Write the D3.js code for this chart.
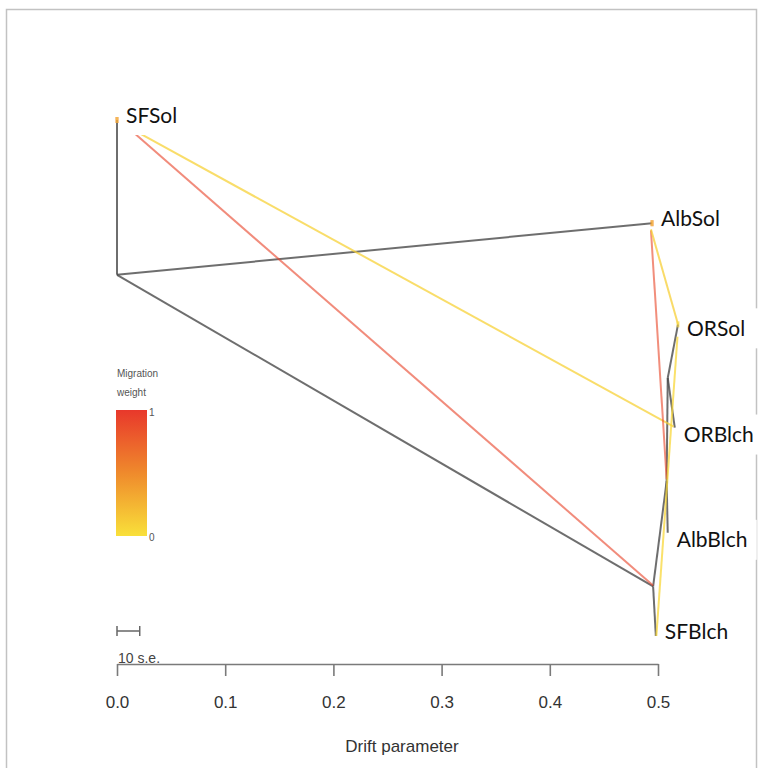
<!DOCTYPE html>
<html lang="en">
  <head>
    <meta charset="utf-8">
    <title>Treemix drift plot</title>
    <script src="https://cdnjs.cloudflare.com/ajax/libs/d3/7.8.5/d3.min.js"></script>
    <style>
      body { margin: 0; background: #fff; }
      .tip-label { font-family: Lato, "Open Sans", sans-serif; font-size: 21px; fill: #111; }
      .axis text { font-family: "Liberation Sans", Arial, sans-serif; font-size: 17px; fill: #333; }
      .axis path, .axis line { stroke: #7a7a7a; stroke-width: 1.6px; }
      .small { font-family: "Liberation Sans", Arial, sans-serif; font-size: 10px; fill: #555; }
    </style>
  </head>
  <body>
    <div id="vis"></div>
<script>
    var width = 758;
    var height = 768;

    // tips (drift, vertical order)
    var tipNames = ['SFSol', 'AlbSol', 'ORSol', 'ORBlch', 'AlbBlch', 'SFBlch'];
    var tipDrift = [0.0, 0.4945, 0.5185, 0.5155, 0.509, 0.498];
    var tipPos = [6, 5, 4.02, 3.02, 2, 1];

    // internal nodes
    var nodeNames = ['root', 'N2', 'N3', 'N4'];
    var nodeDrift = [0.0, 0.4955, 0.508, 0.509];
    var nodePos = [4.5, 1.48, 2.5, 3.5];

    var edgeFrom = ['root', 'root', 'root', 'N2', 'N2', 'N3', 'N3', 'N4', 'N4'];
    var edgeTo = ['SFSol', 'AlbSol', 'N2', 'SFBlch', 'N3', 'AlbBlch', 'N4', 'ORSol', 'ORBlch'];

    // migration edges
    var migSource = ['SFSol', 'SFSol', 'AlbSol', 'AlbSol', 'ORSol'];
    var migFromDrift = [0.014, 0.021, 0.4935, 0.4935, 0.518];
    var migFromPos = [5.89, 5.87, 4.93, 4.94, 3.9];
    var migToDrift = [0.4955, 0.5145, 0.508, 0.5185, 0.4985];
    var migToPos = [1.49, 3.03, 2.52, 4.02, 1.0];
    var migWeight = [0.92, 0.08, 0.9, 0.1, 0.05];

    var driftTicks = [0, 0.1, 0.2, 0.3, 0.4, 0.5];
    var seBar = 0.021;

    var svg = d3.select('#vis')
        .append('svg')
        .attr('width', width)
        .attr('height', height);

    // frame
    svg.append('rect')
        .attr('x', 6.5).attr('y', 9.5)
        .attr('width', 750).attr('height', 820)
        .attr('fill', 'none')
        .attr('stroke', '#c2c2c2')
        .attr('stroke-width', 1.5);

    var x_scale = d3.scaleLinear().domain([0, 0.5]).range([117, 658]);
    var y_scale = d3.scaleLinear().domain([1, 6]).range([636, 120]);

    var color = d3.scaleLinear()
        .domain([0, 0.5, 1])
        .range(['#f9e03a', '#ef8a2c', '#e8382b']);

    var pos = {};
    tipNames.forEach(function(n, i) { pos[n] = [tipDrift[i], tipPos[i]]; });
    nodeNames.forEach(function(n, i) { pos[n] = [nodeDrift[i], nodePos[i]]; });

    // tree edges
    svg.append('g').selectAll('line')
        .data(edgeFrom.map(function(f, i) { return [f, edgeTo[i]]; }))
        .enter()
        .append('line')
        .attr('x1', function(d) { return x_scale(pos[d[0]][0]); })
        .attr('y1', function(d) { return y_scale(pos[d[0]][1]); })
        .attr('x2', function(d) { return x_scale(pos[d[1]][0]); })
        .attr('y2', function(d) { return y_scale(pos[d[1]][1]); })
        .attr('stroke', '#4a4a4a')
        .attr('stroke-opacity', 0.8)
        .attr('stroke-width', 2);

    // migration edges
    var migs = migWeight.map(function(w, i) { return i; });
    svg.append('g').selectAll('line')
        .data(migs)
        .enter()
        .append('line')
        .attr('x1', function(i) { return x_scale(migFromDrift[i]); })
        .attr('y1', function(i) { return y_scale(migFromPos[i]); })
        .attr('x2', function(i) { return x_scale(migToDrift[i]); })
        .attr('y2', function(i) { return y_scale(migToPos[i]); })
        .attr('stroke', function(i) { return color(migWeight[i]); })
        .attr('stroke-opacity', function(i) { return migWeight[i] > 0.5 ? 0.62 : 0.75; })
        .attr('stroke-width', 2);

    // small marks at migration sources
    svg.append('g').selectAll('rect')
        .data(migs)
        .enter()
        .append('rect')
        .attr('x', function(i) { return x_scale(pos[migSource[i]][0]) - 1.5; })
        .attr('y', function(i) { return y_scale(pos[migSource[i]][1]) - 3; })
        .attr('width', 3).attr('height', 6)
        .attr('fill', function(i) { return color(migWeight[i]); })
        .attr('opacity', 0.6);

    // tip labels (nudged like the original plot)
    var labelNudge = { ORSol: 9, ORBlch: 12, AlbBlch: 12 };
    var labels = svg.append('g').selectAll('g')
        .data(tipNames)
        .enter()
        .append('g')
        .attr('transform', function(d, i) {
            var dy = labelNudge[d] || 0;
            return 'translate(' + (x_scale(tipDrift[i]) + 9) + ',' + (y_scale(tipPos[i]) - 5 + dy) + ')';
        });
    labels.append('rect')
        .attr('x', -2).attr('y', -20)
        .attr('width', 82).attr('height', 40)
        .attr('fill', '#fff');
    labels.append('text')
        .attr('class', 'tip-label')
        .attr('dy', '0.36em')
        .text(function(d) { return d; });

    // legend
    var grad = svg.append('defs').append('linearGradient')
        .attr('id', 'mig').attr('x1', 0).attr('y1', 1).attr('x2', 0).attr('y2', 0);
    [0, 0.25, 0.5, 0.75, 1].forEach(function(t) {
        grad.append('stop').attr('offset', t).attr('stop-color', color(t));
    });
    svg.append('text').attr('class', 'small').attr('x', 117).attr('y', 377).text('Migration');
    svg.append('text').attr('class', 'small').attr('x', 117).attr('y', 396).text('weight');
    svg.append('rect')
        .attr('x', 116).attr('y', 410)
        .attr('width', 31).attr('height', 126)
        .attr('fill', 'url(#mig)');
    svg.append('text').attr('class', 'small').attr('x', 149).attr('y', 416).text('1');
    svg.append('text').attr('class', 'small').attr('x', 149).attr('y', 541).text('0');

    // scale bar
    var sb = svg.append('g').attr('stroke', '#666').attr('stroke-width', 1.5);
    sb.append('line').attr('x1', x_scale(0)).attr('x2', x_scale(seBar)).attr('y1', 631).attr('y2', 631);
    sb.append('line').attr('x1', x_scale(0)).attr('x2', x_scale(0)).attr('y1', 626).attr('y2', 636);
    sb.append('line').attr('x1', x_scale(seBar)).attr('x2', x_scale(seBar)).attr('y1', 626).attr('y2', 636);
    svg.append('text')
        .attr('x', 118).attr('y', 663)
        .style('font-family', '"Liberation Sans", Arial, sans-serif')
        .style('font-size', '14px')
        .attr('fill', '#444')
        .text('10 s.e.');

    // axis
    var x_axis = d3.axisBottom(x_scale)
        .tickValues(driftTicks)
        .tickFormat(d3.format('.1f'))
        .tickSize(12)
        .tickSizeOuter(0);
    var ax = svg.append('g')
        .attr('class', 'axis')
        .attr('transform', 'translate(0,664)')
        .call(x_axis);
    ax.selectAll('text').attr('y', 32);

    svg.append('text')
        .attr('x', 402).attr('y', 752)
        .attr('text-anchor', 'middle')
        .style('font-family', '"Liberation Sans", Arial, sans-serif')
        .style('font-size', '17px')
        .attr('fill', '#333')
        .text('Drift parameter');
</script>
  </body>
</html>
